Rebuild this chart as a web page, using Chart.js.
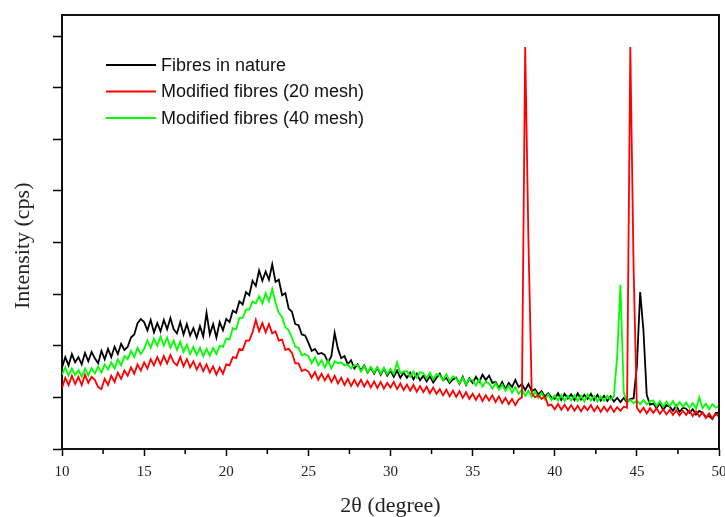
<!DOCTYPE html>
<html><head><meta charset="utf-8">
<script src="https://cdn.jsdelivr.net/npm/chart.js@4.4.0/dist/chart.umd.min.js"></script>
<style>html,body{margin:0;padding:0;background:#fff}#wrap{width:725px;height:517px}</style>
</head><body><div id="wrap"><canvas id="c" width="725" height="517"></canvas></div>
<script>
// x grid: 10 to 50 degrees, sampled every 0.2 degree
const angleStart = 10, angleStep = 0.2, angleCount = 201;
const angles = Array.from({length: angleCount}, (_, i) => +(angleStart + i * angleStep).toFixed(1));

const seriesLabels = ['Fibres in nature', 'Modified fibres (20 mesh)', 'Modified fibres (40 mesh)'];
const seriesColors = ['#000000', '#ff0000', '#00ff00'];

const xTickValues = [10, 15, 20, 25, 30, 35, 40, 45, 50];
const xMinorTicks = [12.5, 17.5, 22.5, 27.5, 32.5, 37.5, 42.5, 47.5];
const yTickValues = [0, 1, 2, 3, 4, 5, 6, 7, 8];

const fibresNature = [
1.58,1.78,1.62,1.84,1.68, 1.78,1.64,1.86,1.70,1.88, 1.76,1.66,1.90,1.74,1.94, 1.78,1.98,1.84,2.04,1.92,
1.98,2.16,2.22,2.44,2.52, 2.46,2.30,2.50,2.26,2.44, 2.28,2.50,2.32,2.54,2.32, 2.24,2.46,2.22,2.42,2.20,
2.34,2.16,2.38,2.18,2.64, 2.22,2.42,2.16,2.46,2.30, 2.52,2.46,2.68,2.64,2.86, 2.80,3.04,2.98,3.26,3.16,
3.46,3.26,3.44,3.28,3.58, 3.24,3.28,2.98,3.02,2.72, 2.66,2.42,2.40,2.22,2.20, 2.06,1.90,1.94,1.84,1.86,
1.82,1.68,1.80,2.25,1.94, 1.76,1.80,1.64,1.72,1.56, 1.64,1.52,1.62,1.48,1.58, 1.46,1.58,1.44,1.56,1.42,
1.52,1.40,1.52,1.38,1.48, 1.38,1.48,1.35,1.46,1.33, 1.42,1.31,1.41,1.29,1.38, 1.46,1.33,1.38,1.28,1.35,
1.38,1.26,1.40,1.24,1.37, 1.28,1.40,1.30,1.44,1.34, 1.42,1.28,1.30,1.18,1.30, 1.16,1.28,1.20,1.34,1.20,
1.26,1.14,1.26,1.12,1.16, 1.06,1.12,1.02,1.08,1.00, 0.97,1.08,0.95,1.07,0.98, 1.06,0.95,1.08,0.96,1.05,
0.97,1.07,0.95,1.05,0.94, 1.03,0.93,1.02,0.92,0.99, 0.91,0.99,0.90,0.97,0.98, 1.60,3.04,2.30,1.05,0.86,
0.88,0.79,0.88,0.76,0.85, 0.82,0.74,0.84,0.72,0.80, 0.78,0.70,0.77,0.67,0.74, 0.70,0.62,0.64,0.58,0.70,
0.70];

const modified20 = [
1.18,1.38,1.24,1.42,1.26, 1.40,1.24,1.44,1.28,1.40, 1.34,1.20,1.16,1.36,1.24, 1.42,1.30,1.48,1.36,1.52,
1.42,1.58,1.46,1.64,1.52, 1.68,1.56,1.74,1.62,1.78, 1.64,1.80,1.66,1.82,1.68, 1.62,1.78,1.60,1.74,1.58,
1.70,1.54,1.66,1.51,1.64, 1.48,1.60,1.44,1.58,1.46, 1.64,1.62,1.78,1.76,1.94, 1.92,2.10,2.10,2.26,2.50,
2.28,2.44,2.26,2.42,2.24, 2.28,2.10,2.12,1.92,1.94, 1.86,1.66,1.66,1.51,1.54, 1.50,1.38,1.49,1.34,1.46,
1.33,1.44,1.30,1.42,1.27, 1.38,1.24,1.36,1.22,1.34, 1.22,1.34,1.21,1.32,1.19, 1.31,1.18,1.30,1.17,1.28,
1.19,1.30,1.16,1.27,1.14, 1.25,1.13,1.24,1.11,1.22, 1.10,1.21,1.08,1.19,1.07, 1.16,1.04,1.15,1.02,1.13,
1.01,1.12,0.99,1.10,0.97, 1.07,0.95,1.06,0.93,1.04, 0.94,1.04,0.91,1.02,0.89, 0.99,0.87,0.97,0.85,0.96,
1.00,7.79,4.00,1.08,1.00, 1.04,0.97,1.02,0.84,0.86, 0.77,0.87,0.76,0.86,0.75, 0.85,0.74,0.84,0.73,0.83,
0.75,0.85,0.73,0.83,0.72, 0.82,0.73,0.83,0.72,0.81, 0.74,0.82,0.80,7.79,3.50, 0.80,0.71,0.80,0.69,0.79,
0.70,0.79,0.68,0.77,0.67, 0.76,0.66,0.75,0.65,0.74, 0.66,0.75,0.64,0.73,0.63, 0.71,0.60,0.69,0.59,0.68,
0.63];

const modified40 = [
1.44,1.58,1.42,1.56,1.43, 1.53,1.40,1.56,1.42,1.57, 1.46,1.60,1.48,1.64,1.54, 1.68,1.56,1.74,1.62,1.80,
1.74,1.90,1.78,1.96,1.84, 1.94,2.10,1.96,2.14,2.00, 2.18,2.00,2.16,1.96,2.10, 1.92,2.08,1.88,2.02,1.84,
1.98,1.82,1.96,1.80,1.94, 1.81,1.96,1.84,2.00,1.98, 2.14,2.12,2.34,2.32,2.54, 2.54,2.70,2.70,2.86,2.82,
2.96,2.82,3.02,2.86,3.10, 2.84,2.64,2.56,2.36,2.30, 2.16,1.98,1.96,1.82,1.84, 1.80,1.66,1.78,1.62,1.72,
1.58,1.72,1.56,1.70,1.66, 1.68,1.62,1.64,1.56,1.62, 1.63,1.50,1.61,1.48,1.59, 1.48,1.59,1.46,1.57,1.45,
1.55,1.45,1.68,1.47,1.50, 1.51,1.40,1.50,1.38,1.49, 1.47,1.37,1.48,1.35,1.45, 1.43,1.33,1.45,1.31,1.41,
1.37,1.27,1.38,1.25,1.36, 1.33,1.23,1.35,1.21,1.31, 1.27,1.17,1.28,1.15,1.25, 1.13,1.23,1.09,1.20,1.07,
1.15,1.03,1.13,1.01,1.11, 0.99,1.09,0.96,1.06,0.95, 1.04,0.94,1.05,0.93,1.03, 0.94,1.04,0.93,1.03,0.92,
1.06,0.94,1.03,0.92,1.02, 0.93,1.03,0.96,1.02,1.80, 3.18,1.10,0.91,0.95,0.89, 0.93,0.87,0.95,0.86,0.93,
0.94,0.83,0.93,0.82,0.92, 0.83,0.93,0.81,0.91,0.82, 0.90,0.80,0.89,0.78,1.00, 0.79,0.88,0.77,0.87,0.80,
0.83];

const seriesValues = [fibresNature, modified20, modified40];
const drawOrder = [2, 0, 1]; // black bottom, red on top

const datasets = seriesValues.map((vals, k) => ({
  label: seriesLabels[k],
  data: angles.map((a, i) => ({x: a, y: vals[i]})),
  borderColor: seriesColors[k],
  backgroundColor: seriesColors[k],
  borderWidth: 1.8,
  pointRadius: 0,
  tension: 0,
  fill: false,
  order: drawOrder[k]
}));

const framePlugin = {
  id: 'frame',
  afterDraw(chart) {
    const {ctx, chartArea: a, scales} = chart;
    ctx.save();
    ctx.strokeStyle = '#111';
    ctx.lineWidth = 2;
    ctx.beginPath();
    ctx.moveTo(a.left, a.top); ctx.lineTo(a.right, a.top); ctx.lineTo(a.right, a.bottom);
    ctx.stroke();
    // minor x ticks
    ctx.lineWidth = 1.5;
    ctx.strokeStyle = '#000';
    xMinorTicks.forEach(v => {
      const px = scales.x.getPixelForValue(v);
      ctx.beginPath(); ctx.moveTo(px, a.bottom); ctx.lineTo(px, a.bottom + 5); ctx.stroke();
    });
    // legend
    const lx = a.left + 44, ly = a.top + 50, gap = 26.5;
    ctx.font = '18px "Liberation Sans", Arial, sans-serif';
    ctx.textBaseline = 'middle';
    ctx.textAlign = 'left';
    seriesLabels.forEach((lab, k) => {
      const y = ly + k * gap;
      ctx.strokeStyle = seriesColors[k];
      ctx.lineWidth = 2;
      ctx.beginPath(); ctx.moveTo(lx, y); ctx.lineTo(lx + 50, y); ctx.stroke();
      ctx.fillStyle = '#111';
      ctx.fillText(lab, lx + 55, y + 1);
    });
    ctx.restore();
  }
};

new Chart(document.getElementById('c'), {
  type: 'line',
  data: {datasets},
  options: {
    responsive: false,
    animation: false,
    layout: {padding: {top: 15, right: 6, left: 0, bottom: 0}},
    plugins: {legend: {display: false}, tooltip: {enabled: false}},
    scales: {
      x: {
        type: 'linear', min: 10, max: 50,
        afterBuildTicks: s => { s.ticks = xTickValues.map(v => ({value: v})); },
        ticks: {font: {family: '"Liberation Serif", serif', size: 15}, color: '#222', padding: 7, maxRotation: 0, autoSkip: false},
        grid: {drawOnChartArea: false, drawTicks: true, tickLength: 7, tickColor: '#000', tickWidth: 1.5},
        border: {color: '#111', width: 2},
        title: {display: true, text: '2θ (degree)', color: '#222',
          font: {family: '"Liberation Serif", serif', size: 22, lineHeight: 1}, padding: {top: 0, bottom: 0}},
        afterFit: s => { s.height = 68; s.paddingRight = 0; s.paddingLeft = 0; }
      },
      y: {
        type: 'linear', min: 0, max: 8.41,
        afterBuildTicks: s => { s.ticks = yTickValues.map(v => ({value: v})); },
        ticks: {display: true, callback: () => ''},
        grid: {drawOnChartArea: false, drawTicks: true, tickLength: 9, tickColor: '#000', tickWidth: 1.5},
        border: {color: '#111', width: 2},
        title: {display: true, text: 'Intensity (cps)\u00A0\u00A0\u00A0\u00A0\u00A0', color: '#222',
          font: {family: '"Liberation Serif", serif', size: 22, lineHeight: 1}, padding: {top: 12, bottom: 0}},
        afterFit: s => { s.width = 62; s.paddingTop = 0; s.paddingBottom = 0; }
      }
    }
  },
  plugins: [framePlugin]
});
</script>
</body></html>
